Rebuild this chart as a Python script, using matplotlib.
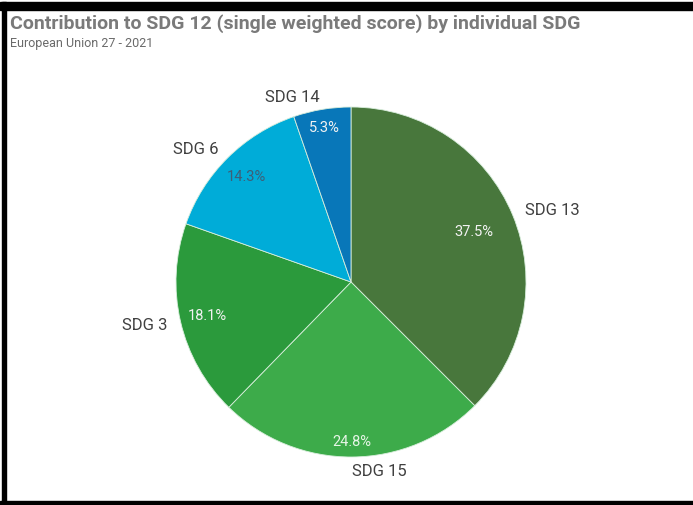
import numpy as np
import matplotlib.pyplot as plt
from matplotlib.patches import Rectangle

# slice data (clockwise from 12 o'clock)
labels = ['SDG 13', 'SDG 15', 'SDG 3', 'SDG 6', 'SDG 14']
shares = [37.5, 24.8, 18.1, 14.3, 5.3]
pct_text = ['37.5%', '24.8%', '18.1%', '14.3%', '5.3%']

colors = ['#48773c', '#3dab4a', '#2b9a3c', '#00acd8', '#0877b9']
pct_colors = ['#f2f2f2', '#e6f5e6', '#f2f2f2', '#3d5f78', '#f2f2f2']
pct_dist = [0.76, 0.91, 0.84, 0.85, 0.90]

plt.rcParams['font.family'] = ['Roboto', 'DejaVu Sans']

fig = plt.figure(figsize=(6.93, 5.06), dpi=100)
fig.patch.set_facecolor('white')

# frame around the screenshot
fig.patches.append(Rectangle((0, 1 - 11 / 506), 1, 8 / 506, transform=fig.transFigure,
                             color='black', zorder=5))
fig.patches.append(Rectangle((2 / 693, 0), 4 / 693, 1 - 3 / 506, transform=fig.transFigure,
                             color='black', zorder=5))
fig.patches.append(Rectangle((0, 0), 1, 4 / 506, transform=fig.transFigure,
                             color='black', zorder=5))

fig.text(10 / 693, 1 - 24 / 506, 'Contribution to SDG 12 (single weighted score) by individual SDG',
         fontsize=14, fontweight='bold', color='#7a7a7a', va='center', ha='left')
fig.text(10 / 693, 1 - 43 / 506, 'European Union 27 - 2021',
         fontsize=9, color='#6a6a6a', va='center', ha='left')

# pie: centre (351, 283), radius 175 px
r = 175
ax = fig.add_axes([(351 - r) / 693, (506 - 283 - r) / 506, 2 * r / 693, 2 * r / 506])
wedges, texts = ax.pie(shares, labels=labels, colors=colors, startangle=90, counterclock=False,
                       labeldistance=1.076,
                       wedgeprops=dict(edgecolor='#d8eedc', linewidth=0.6),
                       textprops=dict(fontsize=12, color='#404040'))
ax.set_xlim(-1, 1)
ax.set_ylim(-1, 1)
ax.set_aspect('equal')

for w, t, d, c in zip(wedges, pct_text, pct_dist, pct_colors):
    ang = np.deg2rad((w.theta1 + w.theta2) / 2)
    ax.text(d * np.cos(ang), d * np.sin(ang), t, ha='center', va='center',
            fontsize=10.5, color=c)

plt.savefig('out.png', dpi=100)
